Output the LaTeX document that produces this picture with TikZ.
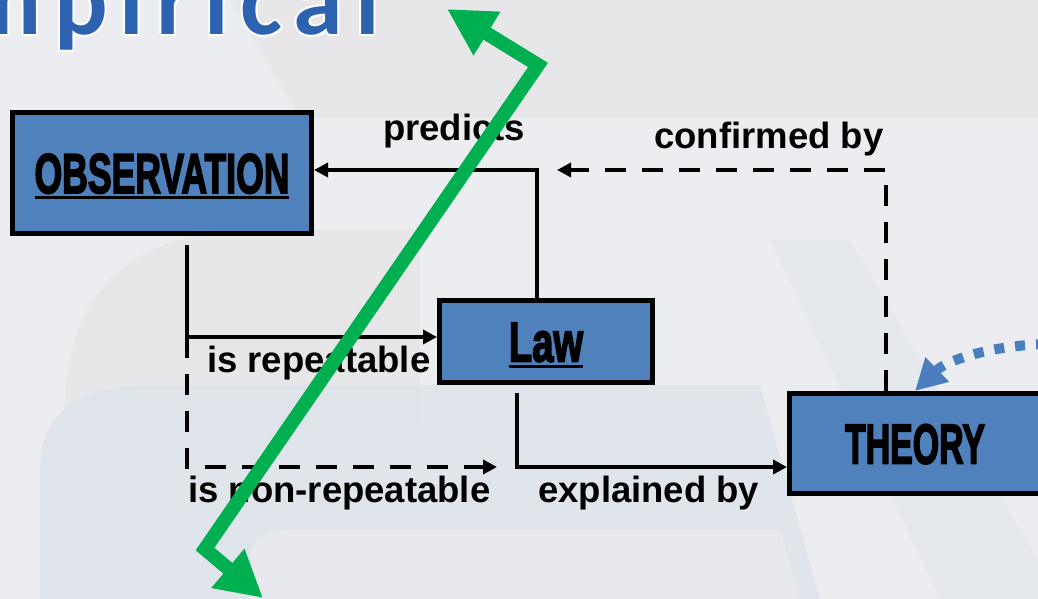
\documentclass[tikz,border=0pt]{standalone}
\usepackage{fontspec}
\setmainfont{Liberation Sans}
\newfontfamily\titlefont{Carlito}[LetterSpace=12]
\newfontfamily\impactfont{Liberation Sans}[BoldFeatures={FakeBold=3.5}]
\usetikzlibrary{arrows.meta}
\definecolor{boxblue}{HTML}{4F81BD}
\definecolor{dotblue}{HTML}{4A7EBF}
\definecolor{arrowgreen}{HTML}{00B050}
\definecolor{titleblue}{HTML}{2C62B0}
\definecolor{bgbase}{HTML}{ECEDF1}
\definecolor{bggrey}{HTML}{E4E2E4}
\definecolor{bgblue}{HTML}{DDE2EA}
\newcommand\ulbox[1]{\setbox0\hbox{#1}\rlap{\raisebox{-6pt}{\rule{\wd0}{3pt}}}\box0}
\begin{document}
\begin{tikzpicture}[x=1pt,y=-1pt,
  box/.style={draw=black, line width=5pt, fill=boxblue, inner sep=0pt,
    text height=40pt, text depth=0pt,
    font=\impactfont\bfseries\fontsize{56}{60}\selectfont},
  conn/.style={line width=4pt, -{Triangle[length=14pt,width=14pt]}},
  dconn/.style={conn, dash pattern=on 21pt off 16pt},
  lbl/.style={font=\bfseries\fontsize{36.5}{40}\selectfont, inner sep=0pt, anchor=base west},
  ttl/.style={font=\titlefont\bfseries\fontsize{100}{104}\selectfont, inner sep=0pt, anchor=base west},
  greenarrow/.style={draw=arrowgreen, line width=14pt, line join=miter,
    {Triangle[length=47pt,width=48pt]}-{Triangle[length=46pt,width=48pt]}},
  dotarrow/.style={draw=dotblue, line width=10pt, dash pattern=on 10pt off 11pt,
    -{Triangle[length=31pt,width=32pt]}}
]
\useasboundingbox (0,0) rectangle (1038,599);
\clip (0,0) rectangle (1038,599);
% background
\fill[bgbase] (0,0) rectangle (1038,599);
\fill[bggrey, opacity=0.55] (230,0) -- (1038,0) -- (1038,118) -- (300,118) -- cycle;
\fill[bggrey, opacity=0.5] (65,430) .. controls (60,300) and (120,230) .. (260,230) -- (420,230) -- (420,430) -- cycle;
\fill[bgblue, opacity=0.8] (40,599) -- (40,470) .. controls (40,410) and (80,385) .. (160,385) -- (760,385) -- (820,599) -- cycle;
\fill[bgbase, opacity=0.6] (250,599) -- (250,560) .. controls (250,535) and (270,530) .. (300,530) -- (780,530) -- (800,599) -- cycle;
\fill[bgblue, opacity=0.45] (770,240) -- (850,240) -- (1038,560) -- (1038,599) -- (940,599) -- cycle;
% title with white halo
\foreach \dx/\dy in {2/0,-2/0,0/2,0/-2,1.5/1.5,-1.5/1.5,1.5/-1.5,-1.5/-1.5}
  \node[ttl, text=white] at (-100+\dx,35+\dy) {Empirical};
\node[ttl, text=titleblue] (title) at (-100,35) {Empirical};
% boxes
\node[box, minimum width=299pt, minimum height=121pt] (obs) at (162,173)
  {\scalebox{0.635}[1]{\ulbox{OBSERVATION}}};
\node[box, minimum width=213pt, minimum height=82pt] (law) at (546,341.5)
  {\scalebox{0.68}[1]{\ulbox{Law}}};
\node[box, minimum width=251pt, minimum height=100pt] (theory) at (915,443.5)
  {\scalebox{0.605}[1]{THEORY}};
% coordinates
\coordinate (lawtop) at (537,298);
\coordinate (obsdown) at (187,245);
\coordinate (split) at (187,337);
\coordinate (nrend) at (497,467);
\coordinate (lawdown) at (517,393);
\coordinate (thtop) at (886,391);
\coordinate (cfend) at (557,170);
% connectors
\draw[conn] (lawtop) |- ([yshift=3pt]obs.east);
\draw[conn] (obsdown) |- ([yshift=4.5pt]law.west);
\draw[dconn] (split) |- (nrend);
\draw[conn] (lawdown) |- (theory.west |- nrend);
\draw[dconn] (thtop) |- (cfend);
% labels
\node[lbl] (lpred) at (383,140) {predicts};
\node[lbl] (lconf) at (654,148) {confirmed by};
\node[lbl] (lrep) at (207,372) {is repeatable};
\node[lbl] (lnon) at (188,502) {is non-repeatable};
\node[lbl] (lexp) at (538,502) {explained by};
% blue dotted arrow
\coordinate (bS) at (1046,344);
\draw[dotarrow] (bS) .. controls (985,346) and (945,362) .. (theory.north);
% green arrow
\coordinate (gT1) at (447,9);
\coordinate (gB) at (538,65);
\coordinate (gA) at (205,549);
\coordinate (gT2) at (263,598);
\draw[greenarrow] (gT1) -- (gB) -- (gA) -- (gT2);
\end{tikzpicture}
\end{document}
